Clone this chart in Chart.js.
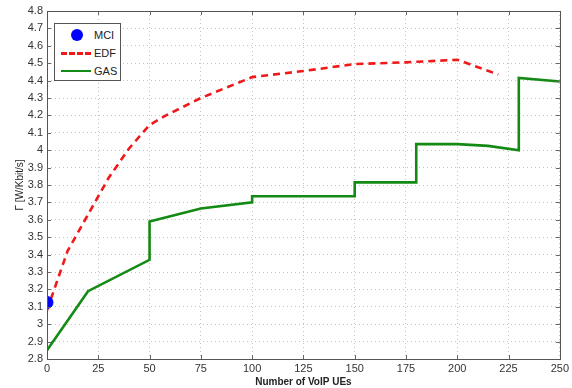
<!DOCTYPE html>
<html>
<head>
<meta charset="utf-8">
<script src="https://cdn.jsdelivr.net/npm/chart.js@4.4.0/dist/chart.umd.min.js"></script>
<style>
  body { margin: 0; background: #fff; }
  #wrap { position: relative; width: 572px; height: 388px; }
  #legend {
    position: absolute; left: 54px; top: 23px; width: 67px; height: 58px;
    border: 1px solid #555; background: #fff; box-sizing: border-box;
    font: 11px "Liberation Sans", Arial, sans-serif; color: #222;
  }
  .item { position: absolute; left: 0; height: 14px; width: 64px; }
  .item span.lbl { position: absolute; left: 39px; top: 0; line-height: 14px; }
  .dot { position: absolute; left: 16px; top: 1px; width: 12px; height: 12px; border-radius: 50%; background: #0000ff; }
  .ln { position: absolute; left: 6px; top: 6px; width: 30px; height: 0; }
</style>
</head>
<body>
<div id="wrap">
  <canvas id="grafico" width="572" height="388"></canvas>
  <div id="legend">
    <div class="item" style="top:4px"><div class="dot"></div><span class="lbl">MCI</span></div>
    <div class="item" style="top:22px"><div class="ln" style="border-top:3px dashed #f01818"></div><span class="lbl">EDF</span></div>
    <div class="item" style="top:40px"><div class="ln" style="border-top:2.5px solid #138a13"></div><span class="lbl">GAS</span></div>
  </div>
</div>
<script>
var mciX = [0];
var mciY = [3.125];

var edfX = [0, 10, 20, 30, 40, 50, 58, 75, 100, 125, 150, 175, 200, 220];
var edfY = [3.08, 3.42, 3.63, 3.84, 4.01, 4.145, 4.2, 4.3, 4.42, 4.455, 4.495, 4.505, 4.52, 4.435];

var gasX = [0, 20, 50, 50, 75, 100, 100, 150, 150, 180, 180, 200, 215, 230, 230, 250];
var gasY = [2.85, 3.19, 3.37, 3.59, 3.665, 3.70, 3.735, 3.735, 3.815, 3.815, 4.035, 4.035, 4.025, 4.0, 4.415, 4.395];

var xTicks = [0, 25, 50, 75, 100, 125, 150, 175, 200, 225, 250];

function pts(xs, ys) {
  return xs.map(function (x, i) { return { x: x, y: ys[i] }; });
}

// matlab style box + inward ticks
var boxPlugin = {
  id: 'box',
  afterDatasetsDraw: function (chart) {
    var c = chart.ctx, a = chart.chartArea;
    var xs = chart.scales.x, ys = chart.scales.y;
    c.save();
    c.strokeStyle = '#666';
    c.lineWidth = 1;
    c.beginPath();
    xs.ticks.forEach(function (t) {
      var px = Math.round(xs.getPixelForValue(t.value)) + 0.5;
      c.moveTo(px, a.bottom); c.lineTo(px, a.bottom - 4);
      c.moveTo(px, a.top); c.lineTo(px, a.top + 4);
    });
    ys.ticks.forEach(function (t) {
      var py = Math.round(ys.getPixelForValue(t.value)) + 0.5;
      c.moveTo(a.left, py); c.lineTo(a.left + 4, py);
      c.moveTo(a.right, py); c.lineTo(a.right - 4, py);
    });
    c.stroke();
    c.strokeStyle = '#555';
    c.strokeRect(Math.round(a.left) + 0.5, Math.round(a.top) + 0.5, Math.round(a.right - a.left), Math.round(a.bottom - a.top));
    c.restore();
  }
};

var ctx = document.getElementById('grafico').getContext('2d');
var chart = new Chart(ctx, {
  type: 'scatter',
  data: {
    datasets: [{
      label: 'MCI',
      data: pts(mciX, mciY),
      backgroundColor: '#0000ff',
      borderColor: '#0000ff',
      pointRadius: 6,
      showLine: false
    }, {
      label: 'EDF',
      data: pts(edfX, edfY),
      borderColor: '#f01818',
      borderWidth: 2.6,
      borderDash: [7, 5],
      pointRadius: 0,
      showLine: true,
      tension: 0
    }, {
      label: 'GAS',
      data: pts(gasX, gasY),
      borderColor: '#138a13',
      borderWidth: 2.6,
      pointRadius: 0,
      showLine: true,
      tension: 0
    }]
  },
  options: {
    responsive: false,
    animation: false,
    layout: { padding: { top: 11, right: 9, left: 14, bottom: 0 } },
    plugins: { legend: { display: false }, tooltip: { enabled: false } },
    scales: {
      x: {
        type: 'linear',
        min: 0, max: 250,
        afterBuildTicks: function (s) { s.ticks = xTicks.map(function (v) { return { value: v }; }); },
        afterFit: function (s) { s.height = 29; },
        grid: { color: '#c4c4c4', drawTicks: false },
        border: { display: false, dash: [1, 3] },
        ticks: { padding: 3, color: '#333', font: { family: 'Liberation Sans', size: 11 }, maxRotation: 0 },
        title: {
          display: true, text: 'Number of VoIP UEs', color: '#222',
          font: { family: 'Liberation Sans', size: 10, weight: 'bold' },
          padding: { top: 0, bottom: 0 }
        }
      },
      y: {
        min: 2.8, max: 4.8,
        afterFit: function (s) { s.width = 33; },
        grid: { color: '#c4c4c4', drawTicks: false },
        border: { display: false, dash: [1, 3] },
        ticks: {
          stepSize: 0.1, padding: 4, color: '#333',
          font: { family: 'Liberation Sans', size: 11 },
          callback: function (v) { return String(Number(v.toFixed(1))); }
        },
        title: {
          display: true, text: 'Γ [W/Kbit/s]', color: '#222',
          font: { family: 'Liberation Sans', size: 10 },
          padding: { top: 0, bottom: 0 }
        }
      }
    }
  },
  plugins: [boxPlugin]
});
</script>
</body>
</html>
